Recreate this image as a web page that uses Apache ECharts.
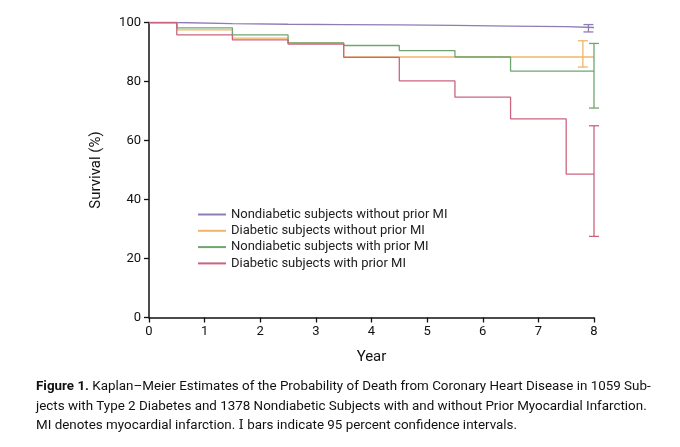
<!DOCTYPE html>
<html>
<head>
<meta charset="utf-8">
<script src="https://cdn.jsdelivr.net/npm/echarts@6/dist/echarts.min.js"></script>
<style>
  html, body { margin: 0; padding: 0; background: #fff; }
  #chart { width: 680px; height: 447px; }
</style>
</head>
<body>
<div id="chart"></div>
<script>
// step times (years) where the survival curves change
var years = [0, 0.5, 1.5, 2.5, 3.5, 4.5, 5.5, 6.5, 7.5, 8];

// survival (%), one value per year above
var nondiabNoMI = [100, 99.6, 99.4, 99.3, 99.2, 99.0, 98.8, 98.6, 98.3, 98.3];
var diabNoMI    = [100, 97.5, 94.7, 93.0, 88.3, 88.3, 88.3, 88.3, 88.3, 88.3];
var nondiabMI   = [100, 98.2, 95.8, 93.1, 92.2, 90.5, 88.3, 83.5, 83.5, 83.5];
var diabMI      = [100, 95.8, 94.1, 92.7, 88.2, 80.2, 74.7, 67.3, 48.6, 48.6];

// 95% confidence bars at the end: [year, low, high]
var ciNondiabNoMI = [7.9, 96.8, 99.3];
var ciDiabNoMI    = [7.8, 84.9, 93.8];
var ciNondiabMI   = [8.0, 71.0, 92.9];
var ciDiabMI      = [8.0, 27.5, 65.0];

var names = [
  'Nondiabetic subjects without prior MI',
  'Diabetic subjects without prior MI',
  'Nondiabetic subjects with prior MI',
  'Diabetic subjects with prior MI'
];
var colors = ['#8f7cb6', '#f0b56a', '#6fa66f', '#cc6480'];
var curves = [nondiabNoMI, diabNoMI, nondiabMI, diabMI];
var cis = [ciNondiabNoMI, ciDiabNoMI, ciNondiabMI, ciDiabMI];

var xTicks = [0, 1, 2, 3, 4, 5, 6, 7, 8];
var yTicks = [0, 20, 40, 60, 80, 100];

function pairs(ys) {
  return years.map(function (x, i) { return [x, ys[i]]; });
}

function errorBar(params, api) {
  var top = api.coord([api.value(0), api.value(2)]);
  var bot = api.coord([api.value(0), api.value(1)]);
  var w = 5;
  var style = { stroke: api.visual('color'), lineWidth: 1.3 };
  return {
    type: 'group',
    children: [
      { type: 'line', shape: { x1: top[0], y1: top[1], x2: bot[0], y2: bot[1] }, style: style },
      { type: 'line', shape: { x1: top[0] - w, y1: top[1], x2: top[0] + w, y2: top[1] }, style: style },
      { type: 'line', shape: { x1: bot[0] - w, y1: bot[1], x2: bot[0] + w, y2: bot[1] }, style: style }
    ]
  };
}

var series = [];
curves.forEach(function (c, i) {
  series.push({
    name: names[i],
    type: 'line',
    step: 'end',
    data: pairs(c),
    symbol: 'none',
    lineStyle: { color: colors[i], width: 1.3 },
    itemStyle: { color: colors[i] },
    z: 2 + i
  });
  series.push({
    type: 'custom',
    renderItem: errorBar,
    data: [cis[i]],
    itemStyle: { color: colors[i] },
    z: 2 + i
  });
});

var txt = '#111';
var chart = echarts.init(document.getElementById('chart'));
chart.setOption({
  animation: false,
  grid: { left: 149, right: 86, top: 22.5, bottom: 129.5 },
  legend: {
    orient: 'vertical',
    left: 193,
    top: 203,
    itemWidth: 28,
    itemHeight: 2,
    itemGap: 3.3,
    icon: 'rect',
    data: names,
    textStyle: { fontFamily: 'Roboto', fontSize: 13, color: '#222' }
  },
  xAxis: {
    type: 'value',
    min: 0, max: 8, interval: 1,
    name: 'Year',
    nameLocation: 'middle',
    nameGap: 32,
    nameTextStyle: { fontFamily: 'Roboto', fontSize: 15, color: txt },
    axisLine: { lineStyle: { color: txt, width: 1.5 } },
    axisTick: { length: 5, lineStyle: { color: txt, width: 1.3 } },
    axisLabel: { fontFamily: 'Roboto', fontSize: 13, color: txt, margin: 8,
      formatter: function (v) { return xTicks.indexOf(v) >= 0 ? String(v) : ''; } },
    splitLine: { show: false }
  },
  yAxis: {
    type: 'value',
    min: 0, max: 100, interval: 20,
    name: 'Survival (%)',
    nameLocation: 'middle',
    nameGap: 45,
    nameTextStyle: { fontFamily: 'Roboto', fontSize: 15, color: txt },
    axisLine: { show: true, lineStyle: { color: txt, width: 1.5 } },
    axisTick: { show: true, length: 5, lineStyle: { color: txt, width: 1.3 } },
    axisLabel: { fontFamily: 'Roboto', fontSize: 13, color: txt, margin: 8,
      formatter: function (v) { return yTicks.indexOf(v) >= 0 ? String(v) : ''; } },
    splitLine: { show: false }
  },
  graphic: [
    {
      type: 'text', left: 36, top: 380,
      style: {
        text: '{b|Figure 1.} Kaplan\u2013Meier Estimates of the Probability of Death from Coronary Heart Disease in 1059 Sub-',
        rich: { b: { fontWeight: 'bold', fontFamily: 'Roboto', fontSize: 13.4, fill: txt } },
        font: '13.4px Roboto', fill: txt
      }
    },
    {
      type: 'text', left: 36, top: 400,
      style: {
        text: 'jects with Type 2 Diabetes and 1378 Nondiabetic Subjects with and without Prior Myocardial Infarction.',
        font: '13.4px Roboto', fill: txt
      }
    },
    {
      type: 'text', left: 36, top: 419,
      style: {
        text: 'MI denotes myocardial infarction. {s|I} bars indicate 95 percent confidence intervals.',
        rich: { s: { fontFamily: 'DejaVu Serif', fontSize: 13.4, fill: txt } },
        font: '13.4px Roboto', fill: txt
      }
    }
  ],
  series: series
});
</script>
</body>
</html>
